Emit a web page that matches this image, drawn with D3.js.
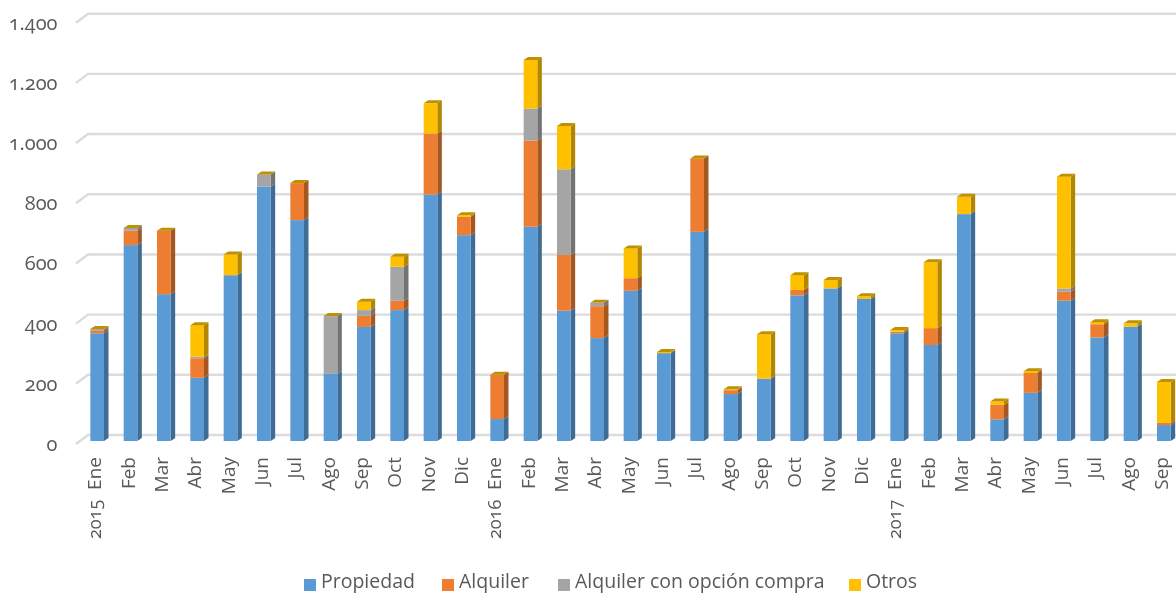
<!DOCTYPE html>
<html>
<head>
<meta charset="utf-8">
<script src="https://cdn.jsdelivr.net/npm/d3@7"></script>
<style>
  html, body { margin: 0; padding: 0; background: #fff; overflow: hidden; }
  svg { filter: blur(0.4px); }
  text { font-family: "Open Sans", sans-serif; fill: #595959; }
  .num text { font-variant-numeric: oldstyle-nums; font-feature-settings: "onum"; }
</style>
</head>
<body>
<svg id="chart" width="1176" height="593"></svg>
<script>
const months = ["Ene","Feb","Mar","Abr","May","Jun","Jul","Ago","Sep","Oct","Nov","Dic",
  "Ene","Feb","Mar","Abr","May","Jun","Jul","Ago","Sep","Oct","Nov","Dic",
  "Ene","Feb","Mar","Abr","May","Jun","Jul","Ago","Sep"];
const years = [[0, "2015"], [12, "2016"], [24, "2017"]];
const seriesNames = ["Propiedad", "Alquiler", "Alquiler con opción compra", "Otros"];

const propiedad = [358,651,488,210,551,845,734,223,379,435,819,684,
  73,712,433,342,499,292,695,156,207,484,507,472,
  358,319,754,72,160,466,344,380,53];
const alquiler = [8,48,211,65,0,0,123,0,37,31,203,61,
  147,286,185,106,42,0,244,13,0,18,0,0,
  5,56,0,48,66,30,44,0,7];
const opcion = [6,9,0,5,0,41,0,192,19,113,0,0,
  0,107,285,11,0,0,0,0,0,0,0,0,
  0,0,0,0,0,11,0,0,0];
const otros = [0,0,0,105,69,0,0,0,28,33,100,5,
  0,161,144,0,99,4,0,3,148,49,28,9,
  6,219,58,11,6,371,7,11,136];
const yTicks = [0,200,400,600,800,1000,1200,1400];

const colors = ["#5b9bd5", "#ed7d31", "#a5a5a5", "#ffc000"];
const sideColors = ["#3e6c95", "#a55722", "#737373", "#b28600"];
const capColor = "#bf9000";

const svg = d3.select("#chart");
const depthX = 4.5, depthY = 3;

// three planes of the fake 3d: front edge of the floor, bars, back wall
const yFront = d3.scaleLinear().domain([0, 1400]).range([444, 22.7]);
const yBar = d3.scaleLinear().domain([0, 1400]).range([441, 19.7]);
const yBack = d3.scaleLinear().domain([0, 1400]).range([435, 13.7]);

const x = d3.scaleBand().domain(d3.range(months.length))
  .range([80.5, 1180.5]).paddingInner(0.59).paddingOuter(0.295);

// gridlines
svg.append("g").selectAll("path")
  .data(yTicks)
  .join("path")
  .attr("d", d => `M76,${yFront(d)}L88,${yBack(d)}H1176`)
  .attr("fill", "none")
  .attr("stroke", "#dcdcdc")
  .attr("stroke-width", 2.4);

// y axis
const fmt = d => d3.format(",")(d).replace(",", ".");
svg.append("g")
  .attr("class", "num")
  .attr("transform", "translate(57.5,0)")
  .call(d3.axisLeft(yFront).tickValues(yTicks).tickSize(0).tickPadding(0).tickFormat(fmt))
  .call(g => g.select(".domain").remove())
  .selectAll("text")
  .style("font-size", "20px");

// stacked bars
const rows = months.map((m, i) => ({ i, 0: propiedad[i], 1: alquiler[i], 2: opcion[i], 3: otros[i] }));
const stack = d3.stack().keys([0, 1, 2, 3])(rows);

const bars = svg.append("g");
stack.forEach((layer, s) => {
  const g = bars.append("g");
  // side face
  g.selectAll(".side")
    .data(layer.filter(d => d[1] > d[0]))
    .join("path")
    .attr("class", "side")
    .attr("fill", sideColors[s])
    .attr("d", d => {
      const r = x(d.data.i) + x.bandwidth();
      return `M${r},${yBar(d[0])}L${r + depthX},${yBar(d[0]) - depthY}L${r + depthX},${yBar(d[1]) - depthY}L${r},${yBar(d[1])}Z`;
    });
  // front face
  g.selectAll(".front")
    .data(layer.filter(d => d[1] > d[0]))
    .join("rect")
    .attr("class", "front")
    .attr("fill", colors[s])
    .attr("x", d => x(d.data.i))
    .attr("width", x.bandwidth())
    .attr("y", d => yBar(d[1]))
    .attr("height", d => yBar(d[0]) - yBar(d[1]));
});

// top caps
const totals = months.map((m, i) => propiedad[i] + alquiler[i] + opcion[i] + otros[i]);
bars.append("g").selectAll("path")
  .data(totals)
  .join("path")
  .attr("fill", capColor)
  .attr("d", (d, i) => {
    const l = x(i), r = l + x.bandwidth(), t = yBar(d);
    return `M${l},${t}L${l + depthX},${t - depthY}H${r + depthX}L${r},${t}Z`;
  });

// month labels
svg.append("g").selectAll("text")
  .data(months)
  .join("text")
  .attr("transform", (d, i) => `translate(${x(i) + x.bandwidth() / 2 - 2.5},457) rotate(-90)`)
  .attr("text-anchor", "end")
  .attr("dy", "0.35em")
  .style("font-size", "19px")
  .text(d => d);

// year labels
svg.append("g").attr("class", "num").selectAll("text")
  .data(years)
  .join("text")
  .attr("transform", d => `translate(${x(d[0]) + x.bandwidth() / 2 - 2},539) rotate(-90)`)
  .attr("dy", "0.35em")
  .style("font-size", "18px")
  .text(d => d[1]);

// legend
const legendX = [304, 442, 558, 849];
const legend = svg.append("g").selectAll("g")
  .data(seriesNames)
  .join("g")
  .attr("transform", (d, i) => `translate(${legendX[i]},579)`);
legend.append("rect")
  .attr("width", 12).attr("height", 12)
  .attr("fill", (d, i) => colors[i]);
legend.append("text")
  .attr("x", 17).attr("y", 8.5)
  .style("font-size", "19.5px")
  .text(d => d);
</script>
</body>
</html>
